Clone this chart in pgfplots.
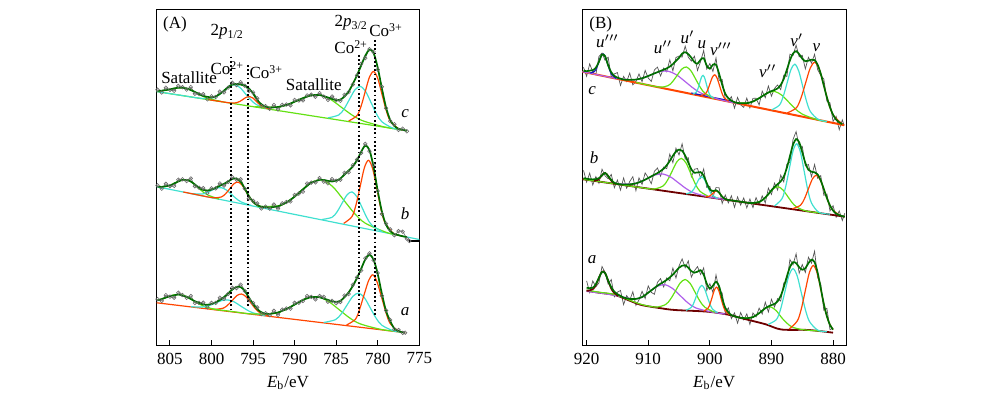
\documentclass[border=0pt]{standalone}
\usepackage{fontspec}
\setmainfont{Liberation Serif}
\usepackage{pgfplots}
\pgfplotsset{compat=1.18}
\definecolor{lgreen}{RGB}{100,225,20}
\definecolor{tq}{RGB}{64,224,208}
\definecolor{ored}{RGB}{255,69,0}
\definecolor{dgreen}{RGB}{0,110,0}
\definecolor{purp}{RGB}{175,95,235}
\definecolor{dblue}{RGB}{20,20,190}
\definecolor{maroon}{RGB}{110,0,0}
\definecolor{rawgray}{RGB}{105,105,105}
\definecolor{rawgrayB}{RGB}{85,85,85}
\pgfplotsset{
  base/.style={scale only axis, height=167.85pt, ymin=0, ymax=335.7, x dir=reverse,
    ytick=\empty, xtick pos=left, tick align=inside, major tick length=3pt,
    axis line style={line width=0.5pt}, every tick/.style={black, line width=0.5pt},
    ticklabel style={font=\fontsize{8.5}{10}\selectfont},
    /pgf/number format/assume math mode=true, /pgf/number format/1000 sep={},
    xlabel={\textit{E}\textsubscript{b}/eV},
    xlabel style={at={(axis description cs:0.5,0)}, anchor=center, yshift=-18.6pt, font=\fontsize{8.5}{10}\selectfont}},
  comp/.style={smooth, line width=0.6pt, no markers},
  env/.style={smooth, line width=0.85pt, dgreen, no markers},
  rawA/.style={smooth, line width=0.3pt, rawgray, mark=o, mark size=0.9pt, mark options={line width=0.3pt}},
  rawB/.style={line width=0.35pt, rawgrayB, no markers},
  dots/.style={black, line width=0.9pt, dash pattern=on 0.9pt off 1.2pt, no markers},
}
\newcommand{\lab}{\fontsize{8.5}{10}\selectfont}
\begin{document}
\begin{tikzpicture}
\path[use as bounding box] (0,0) rectangle (500pt,199.5pt);
% ================= Panel A =================
\begin{axis}[base, at={(78.35pt,26.65pt)}, anchor=south west, width=131.3pt,
  xmin=775, xmax=806.6, xtick={775,780,785,790,795,800,805}]
% ---- c ----
\addplot[rawA] coordinates {(806.5,256.0)(806,253.2)(805.5,258.0)(805,255.7)(804.5,254.9)(804,259.8)(803.5,258.5)(803,256.1)(802.5,258.6)(802,251.9)(801.5,251.6)(801,251.5)(800.5,246.4)(800,249.4)(799.5,248.7)(799,254.1)(798.5,253.3)(798,258.1)(797.5,262.9)(797,260.6)(796.5,263.5)(796,260.0)(795.5,254.8)(795,253.3)(794.5,247.4)(794,239.6)(793.5,239.6)(793,236.9)(792.5,240.7)(792,236.3)(791.5,240.8)(791,241.2)(790.5,240.4)(790,245.8)(789.5,245.2)(789,245.2)(788.5,250.3)(788,251.0)(787.5,248.9)(787,252.5)(786.5,249.0)(786,245.8)(785.5,249.2)(785,245.5)(784.5,244.9)(784,250.9)(783.5,253.6)(783,261.2)(782.5,270.4)(782,281.9)(781.5,287.6)(781,296.5)(780.5,293.8)(780,276.1)(779.5,258.9)(779,237.5)(778.5,224.5)(778,221.5)(777.5,215.7)(777,217.0)(776.5,214.4)};
\addplot[comp, lgreen] coordinates {(806.6,254.1)(776.5,215.0)};
\addplot[comp, tq] coordinates {(806.6,254.1)(803.5,250.1)(801.1,247.2)(799.8,247.9)(799.15,250.6)(798.5,255.1)(797.85,259.6)(797.2,260.9)(796.55,257.9)(795.9,251.7)(795.25,245.6)(794.6,241.1)(793.3,237.0)};
\addplot[comp, lgreen] coordinates {(806.5,254.8)(806.3,254.8)(805.55,255.4)(804.8,256.7)(804.05,257.9)(803.3,257.8)(802.55,256.0)(801.8,252.8)(801.05,249.5)(800.3,247.0)(798.8,244.1)};
\addplot[comp, ored] coordinates {(800.4,246.1)(797.8,242.8)(797.0,243.0)(796.6,244.2)(796.2,246.4)(795.8,248.5)(795.4,249.1)(795.0,247.5)(794.6,244.3)(794.2,241.1)(793.8,238.8)(793.0,236.6)};
\addplot[comp, lgreen] coordinates {(794.8,239.0)(792.2,238.4)(790.9,240.8)(789.6,245.3)(788.3,249.7)(787.0,250.7)(785.7,246.4)(784.4,238.6)(783.1,230.7)(781.8,224.9)(779.2,218.7)(777.5,216.4)};
\addplot[comp, tq] coordinates {(786.0,227.8)(784.7,230.7)(784.05,236.8)(783.4,246.4)(782.75,255.8)(782.1,259.3)(781.45,254.1)(780.8,243.0)(780.15,231.7)(779.5,223.9)(778.2,217.6)(777.0,215.7)};
\addplot[comp, ored] coordinates {(783.5,224.7)(782.5,230.1)(782.0,239.7)(781.5,254.3)(781.0,268.6)(780.5,274.2)(780.0,267.3)(779.5,251.7)(779.0,235.8)(778.5,224.9)(777.5,216.9)(776.8,215.5)};
\addplot[env] coordinates {(806.5,254.8)(806,255.0)(805.5,255.6)(805,256.3)(804.5,257.3)(804,258.0)(803.5,257.9)(803,257.3)(802.5,255.6)(802,253.7)(801.5,251.6)(801,249.7)(800.5,248.8)(800,248.2)(799.5,249.3)(799,251.7)(798.5,255.1)(798,258.7)(797.5,261.1)(797,261.8)(796.5,261.1)(796,260.0)(795.5,257.2)(795,252.1)(794.5,245.6)(794,241.4)(793.5,239.0)(793,238.1)(792.5,238.3)(792,238.7)(791.5,239.6)(791,240.6)(790.5,242.2)(790,244.0)(789.5,245.8)(789,247.6)(788.5,249.1)(788,250.4)(787.5,250.7)(787,250.7)(786.5,249.6)(786,248.2)(785.5,246.8)(785,245.5)(784.5,246.1)(784,249.1)(783.5,254.2)(783,261.8)(782.5,270.4)(782,280.1)(781.5,290.0)(781,295.9)(780.5,292.6)(780,277.9)(779.5,257.1)(779,238.1)(778.5,225.7)(778,219.7)(777.5,216.9)(777,215.8)(776.5,215.0)};
% ---- b ----
\addplot[rawA] coordinates {(806.5,160.3)(806,157.0)(805.5,161.9)(805,159.6)(804.5,159.8)(804,166.0)(803.5,166.4)(803,164.6)(802.5,167.2)(802,159.4)(801.5,157.9)(801,157.5)(800.5,152.8)(800,157.3)(799.5,157.3)(799,162.3)(798.5,160.1)(798,163.7)(797.5,168.5)(797,166.1)(796.5,166.4)(796,157.1)(795.5,147.2)(795,144.9)(794.5,142.3)(794,137.2)(793.5,139.1)(793,137.0)(792.5,141.1)(792,137.0)(791.5,142.4)(791,143.7)(790.5,144.2)(790,150.8)(789.5,152.1)(789,154.0)(788.5,162.2)(788,163.1)(787.5,163.3)(787,167.6)(786.5,164.0)(786,162.4)(785.5,166.6)(785,165.0)(784.5,166.0)(784,172.9)(783.5,173.4)(783,180.4)(782.5,186.0)(782,192.7)(781.5,201.8)(781,194.5)(780.5,180.8)(780,154.7)(779.5,131.7)(779,122.1)(778.5,116.3)(778,110.5)(777.5,114.5)(777,114.0)(776.5,107.0)(776.2,104.7)};
\addplot[black, line width=0.6pt] coordinates {(776.2,104.7)(775.0,104.7)};
\addplot[comp, tq] coordinates {(806.6,159.0)(775.0,106.2)};
\addplot[comp, lgreen] coordinates {(806.5,159.1)(805.6,159.1)(804.95,160.4)(804.3,163.1)(803.65,165.5)(803.0,166.0)(802.35,163.4)(801.7,158.7)(801.05,153.9)(800.4,150.5)(799.1,146.6)};
\addplot[comp, tq] coordinates {(802.4,152.1)(801.2,151.6)(800.6,152.9)(800.0,155.3)(799.4,157.6)(798.8,158.0)(798.2,155.6)(797.6,151.3)(797.0,146.9)(796.4,143.6)(795.2,140.1)};
\addplot[comp, ored] coordinates {(803.4,153.7)(801.0,149.7)(799.8,147.9)(798.8,148.8)(798.3,152.0)(797.8,157.0)(797.3,162.0)(796.8,163.6)(796.3,160.3)(795.8,153.7)(795.3,146.9)(794.8,142.1)(793.8,137.8)};
\addplot[comp, lgreen] coordinates {(794.5,139.2)(791.9,139.9)(790.6,145.3)(789.3,154.4)(788.0,163.2)(786.7,165.8)(785.4,158.9)(784.1,145.7)(782.8,132.3)(781.5,122.5)(778.9,113.1)(777.5,110.4)};
\addplot[comp, tq] coordinates {(786.7,126.2)(785.5,128.4)(784.9,133.8)(784.3,142.4)(783.7,150.8)(783.1,153.8)(782.5,148.8)(781.9,138.4)(781.3,127.8)(780.7,120.4)(779.5,114.1)};
\addplot[comp, ored] coordinates {(784.1,122.3)(783.1,129.1)(782.6,141.4)(782.1,159.9)(781.6,178.2)(781.1,185.4)(780.6,176.5)(780.1,156.6)(779.6,136.3)(779.1,122.4)(778.1,112.2)(777.0,109.6)};
\addplot[env] coordinates {(806.5,159.1)(806,158.8)(805.5,159.5)(805,160.2)(804.5,162.2)(804,164.2)(803.5,165.8)(803,165.8)(802.5,164.2)(802,161.2)(801.5,157.9)(801,155.7)(800.5,155.2)(800,156.1)(799.5,157.9)(799,159.9)(798.5,161.9)(798,164.3)(797.5,166.7)(797,167.3)(796.5,164.0)(796,157.1)(795.5,149.6)(795,143.7)(794.5,140.5)(794,139.0)(793.5,138.5)(793,138.2)(792.5,138.7)(792,139.4)(791.5,141.2)(791,143.1)(790.5,146.0)(790,149.0)(789.5,152.7)(789,156.4)(788.5,159.8)(788,163.1)(787.5,164.5)(787,165.8)(786.5,165.8)(786,164.8)(785.5,164.2)(785,165.0)(784.5,167.2)(784,171.1)(783.5,175.2)(783,179.2)(782.5,185.3)(782,193.9)(781.5,200.0)(781,195.7)(780.5,178.4)(780,154.7)(779.5,134.1)(779,120.9)(778.5,114.5)(778,111.7)(777.5,110.5)(777,109.4)(776.5,108.6)};
% ---- a ----
\addplot[rawA] coordinates {(806.5,46.6)(806,44.8)(805.5,50.5)(805,49.0)(804.5,48.0)(804,53.0)(803.5,50.7)(803,47.8)(802.5,49.7)(802,42.6)(801.5,42.8)(801,43.0)(800.5,38.5)(800,42.8)(799.5,42.8)(799,48.0)(798.5,46.9)(798,51.7)(797.5,57.9)(797,57.6)(796.5,61.0)(796,54.8)(795.5,45.8)(795,42.8)(794.5,38.3)(794,31.6)(793.5,32.5)(793,30.6)(792.5,34.9)(792,30.8)(791.5,36.1)(791,37.2)(790.5,37.0)(790,42.9)(789.5,42.9)(789,44.7)(788.5,49.7)(788,48.8)(787.5,46.3)(787,49.7)(786.5,48.9)(786,44.0)(785.5,44.9)(785,42.6)(784.5,43.7)(784,50.2)(783.5,51.6)(783,60.9)(782.5,68.2)(782,75.2)(781.5,87.4)(781,92.3)(780.5,85.5)(780,72.7)(779.5,50.0)(779,35.2)(778.5,25.7)(778,16.5)(777.5,15.7)(777,12.8)(776.7,13.0)};
\addplot[comp, ored] coordinates {(806.6,42.9)(776.7,13.0)};
\addplot[comp, lgreen] coordinates {(806.5,45.4)(806.2,46.1)(805.4,48.4)(804.6,50.6)(803.8,51.1)(803.0,49.0)(802.2,45.2)(801.4,41.3)(800.6,38.4)(799.0,35.4)};
\addplot[comp, tq] coordinates {(802.5,38.9)(801.0,38.8)(800.25,40.3)(799.5,42.7)(798.75,45.2)(798.0,45.7)(797.25,43.7)(796.5,39.7)(795.75,35.8)(795.0,32.8)(793.5,29.9)};
\addplot[comp, ored] coordinates {(799.7,36.2)(798.6,37.5)(798.05,40.6)(797.5,45.3)(796.95,50.1)(796.4,51.7)(795.85,49.0)(795.3,43.1)(794.75,37.3)(794.2,33.1)(793.1,29.6)};
\addplot[comp, lgreen] coordinates {(800.0,36.8)(797.0,33.6)(795.1,31.7)(792.5,32.2)(791.2,35.7)(789.9,41.6)(788.6,47.3)(787.3,49.0)(786.0,44.7)(784.7,36.4)(783.4,27.9)(782.1,21.8)(779.5,16.1)(777.0,13.6)};
\addplot[comp, tq] coordinates {(786.5,23.2)(785.1,26.0)(784.4,31.7)(783.7,40.6)(783.0,49.3)(782.3,52.6)(781.6,47.9)(780.9,37.8)(780.2,27.5)(779.5,20.4)(778.1,14.8)(777.2,13.6)};
\addplot[comp, ored] coordinates {(783.75,20.7)(782.7,26.3)(782.2,36.0)(781.65,50.8)(781.1,65.1)(780.6,70.9)(780.1,64.1)(779.55,48.7)(779.0,32.8)(778.5,22.1)(777.45,14.4)(776.8,13.2)};
\addplot[env] coordinates {(806.5,45.4)(806,46.6)(805.5,48.1)(805,49.6)(804.5,50.4)(804,51.2)(803.5,50.1)(803,49.0)(802.5,46.7)(802,44.4)(801.5,42.8)(801,41.2)(800.5,40.9)(800,41.6)(799.5,43.4)(799,45.6)(798.5,48.7)(798,52.3)(797.5,56.1)(797,58.8)(796.5,58.6)(796,54.8)(795.5,48.2)(795,41.6)(794.5,36.5)(794,33.4)(793.5,31.9)(793,31.8)(792.5,32.5)(792,33.2)(791.5,34.9)(791,36.6)(790.5,38.8)(790,41.1)(789.5,43.5)(789,45.9)(788.5,47.3)(788,48.8)(787.5,48.7)(787,48.5)(786.5,47.1)(786,45.8)(785.5,44.3)(785,43.8)(784.5,44.9)(784,48.4)(783.5,53.4)(783,59.7)(782.5,67.6)(782,77.0)(781.5,86.2)(781,90.9)(780.5,86.1)(780,71.5)(779.5,51.8)(779,34.6)(778.5,24.5)(778,17.1)(777.5,14.5)(777,13.4)(776.7,13.0)};
% ---- dotted guides ----
\addplot[dots] coordinates {(797.7,289)(797.7,35)};
\addplot[dots] coordinates {(795.6,280.7)(795.6,37.7)};
\addplot[dots] coordinates {(782.3,290.7)(782.3,29.5)};
\addplot[dots] coordinates {(780.3,305.7)(780.3,30.7)};
% ---- labels ----
\node[font=\lab] at (axis cs:804.4,321.7) {(A)};
\node[font=\lab] at (axis cs:798.1,313.7) {2\textit{p}\textsubscript{1/2}};
\node[font=\lab] at (axis cs:798.1,277.7) {Co\textsuperscript{2+}};
\node[font=\lab] at (axis cs:793.4,273.7) {Co\textsuperscript{3+}};
\node[font=\lab] at (axis cs:802.7,267.7) {Satallite};
\node[font=\lab] at (axis cs:787.7,260.7) {Satallite};
\node[font=\lab] at (axis cs:783.2,322.7) {2\textit{p}\textsubscript{3/2}};
\node[font=\lab] at (axis cs:783.2,298.7) {Co\textsuperscript{2+}};
\node[font=\lab] at (axis cs:779.0,315.7) {Co\textsuperscript{3+}};
\node[font=\lab] at (axis cs:776.7,232.4) {\textit{c}};
\node[font=\lab] at (axis cs:776.7,132.4) {\textit{b}};
\node[font=\lab] at (axis cs:776.7,34) {\textit{a}};
\end{axis}
% ================= Panel B =================
\begin{axis}[base, at={(291.15pt,26.65pt)}, anchor=south west, width=131.85pt,
  xmin=877.9, xmax=920.7, xtick={880,890,900,910,920}]
% ---- c ----
\addplot[rawB] coordinates {(920.5,278.4)(920,269.4)(919.5,281.8)(919,273.8)(918.5,271.2)(918,289.2)(917.5,292.6)(917,285.3)(916.5,288.4)(916,268.4)(915.5,271.8)(915,273.1)(914.5,260.2)(914,269.3)(913.5,264.2)(913,272.6)(912.5,260.8)(912,264.2)(911.5,271.8)(911,264.0)(910.5,275.3)(910,267.7)(909.5,264.2)(909,275.7)(908.5,278.6)(908,269.7)(907.5,277.6)(907,273.9)(906.5,285.9)(906,274.8)(905.5,288.2)(905,289.6)(904.5,288.6)(904,299.5)(903.5,288.5)(903,284.6)(902.5,289.5)(902,275.2)(901.5,284.3)(901,295.2)(900.5,276.6)(900,282.1)(899.5,274.2)(899,287.8)(898.5,265.2)(898,266.1)(897.5,246.9)(897,244.9)(896.5,249)(896,237.5)(895.5,248.3)(895,240.9)(894.5,238.3)(894,247.6)(893.5,237.8)(893,247.3)(892.5,247.5)(892,240.7)(891.5,254.6)(891,248.0)(890.5,259.7)(890,249.5)(889.5,257.4)(889,260.7)(888.5,256.1)(888,270.5)(887.5,269.3)(887,291.5)(886.5,290.2)(886,300.5)(885.5,288.9)(885,290.4)(884.5,276.8)(884,288.4)(883.5,282.6)(883,291.4)(882.5,276.0)(882,270.3)(881.5,266.7)(881,244.4)(880.5,242.8)(880,224.3)(879.5,229.3)(879,216.0)(878.5,225.8)(878.2,220)};
\addplot[comp, ored, line width=1pt] coordinates {(920.7,274.0)(878.2,220.5)};
\addplot[comp, dblue] coordinates {(903,252.7)(900,248.9)(898,246.4)(896.5,244.5)};
\addplot[comp, purp] coordinates {(920.7,274.0)(918.0,270.6)(915.15,267.2)(912.35,265.9)(910.95,267.5)(909.55,270.8)(908.15,274.1)(906.75,274.4)(905.35,270.6)(903.95,263.8)(902.55,256.9)(901.15,251.8)(898.35,246.0)(895.0,241.6)};
\addplot[comp, dblue] coordinates {(919.4,272.6)(918.7,274.5)(918.35,278.1)(918.0,283.9)(917.65,289.6)(917.3,291.7)(916.95,288.7)(916.6,282.1)(916.25,275.5)(915.9,270.9)(915.2,267.3)};
\addplot[comp, lgreen] coordinates {(912.0,263.3)(908.3,258.7)(906.8,260.0)(906.05,264.0)(905.3,270.4)(904.55,276.6)(903.8,278.7)(903.05,274.7)(902.3,266.6)(901.55,258.3)(900.8,252.4)(899.3,247.3)};
\addplot[comp, tq] coordinates {(902.75,251.6)(902.2,253.5)(901.925,257.1)(901.65,262.7)(901.375,268.2)(901.1,270.3)(900.825,267.5)(900.55,261.3)(900.275,255.1)(900.0,250.7)(899.45,247.4)};
\addplot[comp, ored] coordinates {(901.45,250.1)(900.7,252.0)(900.325,256.1)(899.95,262.5)(899.575,268.6)(899.2,270.9)(898.825,267.6)(898.45,260.6)(898.075,253.3)(897.7,248.2)(896.95,244.4)};
\addplot[comp, lgreen] coordinates {(896.0,243.1)(893.8,242.7)(892.7,245.0)(891.6,249.1)(890.5,253.1)(889.4,254.1)(888.3,250.4)(887.2,243.6)(886.1,236.7)(885.0,231.6)(882.8,226.4)(881.0,224.0)};
\addplot[comp, tq] coordinates {(889.95,235.9)(888.7,240.6)(888.075,249.5)(887.45,263.0)(886.825,276.3)(886.2,281.5)(885.575,274.7)(884.95,259.9)(884.325,244.8)(883.7,234.3)(882.45,226.4)(881.0,224.2)};
\addplot[comp, ored] coordinates {(887.45,232.7)(885.95,237.9)(885.2,247.8)(884.45,262.9)(883.7,277.7)(882.95,283.4)(882.2,275.8)(881.45,259.1)(880.7,242.1)(879.95,230.4)(878.45,221.4)};
\addplot[env] coordinates {(920.5,275.0)(920,274.5)(919.5,275.0)(919,275.5)(918.5,278.0)(918,283.9)(917.5,291.1)(917,289.4)(916.5,280.2)(916,273.5)(915.5,269.8)(915,268.0)(914.5,267.0)(914,266.1)(913.5,265.9)(913,265.8)(912.5,265.9)(912,266.1)(911.5,266.7)(911,267.4)(910.5,268.5)(910,269.7)(909.5,271.0)(909,272.3)(908.5,273.5)(908,274.8)(907.5,275.9)(907,277.3)(906.5,279.1)(906,281.6)(905.5,284.8)(905,287.9)(904.5,292)(904,293.5)(903.5,291.5)(903,288)(902.5,283.5)(902,282)(901.5,286)(901,287.5)(900.5,280)(900,277)(899.5,281)(899,281)(898.5,272)(898,261)(897.5,252)(897,247.5)(896.5,245)(896,243.5)(895.5,242.7)(895,242.4)(894.5,242.4)(894,242.5)(893.5,243.2)(893,244.2)(892.5,245.8)(892,247.5)(891.5,249.5)(891,251.4)(890.5,253.2)(890,254.6)(889.5,255.7)(889,257.3)(888.5,260.7)(888,266.9)(887.5,275.9)(887,285.4)(886.5,292.1)(886,294.5)(885.5,291.5)(885,287)(884.5,284.5)(884,285)(883.5,286)(883,285.6)(882.5,280.9)(882,272.0)(881.5,260.1)(881,248.3)(880.5,238.4)(880,230.9)(879.5,226.1)(879,223.3)(878.5,221.5)};
% ---- b ----
\addplot[rawB] coordinates {(920.5,175.2)(920,163.6)(919.5,172.5)(919,160.7)(918.5,169.1)(918,162.4)(917.5,176.5)(917,169.8)(916.5,166.9)(916,171.3)(915.5,158.0)(915,165.6)(914.5,155.6)(914,167.7)(913.5,157.5)(913,164.2)(912.5,169.0)(912,155.0)(911.5,167.9)(911,161.2)(910.5,172.8)(910,168.2)(909.5,162.0)(909,174.4)(908.5,177.7)(908,169.5)(907.5,178.7)(907,177.0)(906.5,191.6)(906,183.1)(905.5,197.5)(905,190.8)(904.5,201.9)(904,186.5)(903.5,188.0)(903,168.9)(902.5,176.5)(902,177.1)(901.5,167.5)(901,176.8)(900.5,158.2)(900,159.4)(899.5,148.5)(899,158.1)(898.5,158.0)(898,142.2)(897.5,150.7)(897,142.8)(896.5,149.9)(896,138.3)(895.5,148.8)(895,140.6)(894.5,147.8)(894,137.8)(893.5,146.7)(893,138.1)(892.5,148.1)(892,140.8)(891.5,149.8)(891,142.8)(890.5,157.5)(890,151.3)(889.5,162.6)(889,155.6)(888.5,170.6)(888,163.8)(887.5,181.5)(887,183.5)(886.5,206.2)(886,214.1)(885.5,199.3)(885,199.5)(884.5,179.8)(884,181.2)(883.5,169.0)(883,181.2)(882.5,167.4)(882,170.0)(881.5,150.4)(881,151.7)(880.5,134.8)(880,140.0)(879.5,128.5)(879,134.8)(878.5,125.2)(878.1,132.4)};
\addplot[comp, maroon, line width=0.9pt] coordinates {(920.7,166.5)(878.1,129.0)};
\addplot[comp, lgreen] coordinates {(920.5,166.3)(915.0,161.5)(911.1,158.0)(909.1,156.7)(907.6,159.7)(906.85,165.7)(906.1,174.8)(905.35,183.9)(904.6,187.3)(903.85,182.6)(903.1,172.2)(902.35,161.7)(901.6,154.4)(900.1,148.8)};
\addplot[comp, purp] coordinates {(915.1,161.8)(912.6,161.7)(911.35,163.7)(910.1,167.3)(908.85,170.8)(907.6,171.7)(906.35,168.6)(905.1,162.9)(903.85,157.1)(902.6,152.9)(900.1,148.6)(897.5,146.2)};
\addplot[comp, maroon, line width=0.8pt] coordinates {(918.8,164.9)(918.2,165.6)(917.6,169.6)(917.3,171.9)(917.0,172.7)(916.7,171.4)(916.4,168.5)(915.8,163.5)(915.2,161.7)};
\addplot[comp, tq] coordinates {(903.85,151.9)(903.0,153.5)(902.575,156.8)(902.15,162.0)(901.725,167.0)(901.3,168.9)(900.875,166.2)(900.45,160.5)(900.025,154.6)(899.6,150.5)(898.75,147.4)};
\addplot[comp, ored] coordinates {(900.7,149.0)(900.1,149.4)(899.5,152.4)(899.2,154.3)(898.9,154.9)(898.6,153.7)(898.3,151.4)(897.7,147.2)(897.1,145.8)};
\addplot[comp, lgreen] coordinates {(893.4,142.7)(891.9,143.9)(891.15,147.1)(890.4,152.2)(889.65,157.2)(888.9,158.9)(888.15,155.8)(887.4,149.6)(886.65,143.1)(885.9,138.7)(884.4,134.7)(882.0,132.6)};
\addplot[comp, tq] coordinates {(889.5,139.7)(888.3,146.9)(887.7,158.8)(887.1,176.9)(886.5,194.7)(885.9,201.9)(885.3,193.5)(884.7,174.8)(884.1,155.7)(883.5,142.7)(882.3,133.4)(880.5,131.5)};
\addplot[comp, ored] coordinates {(886.6,136.9)(885.3,140.4)(884.65,146.9)(884.0,156.9)(883.35,166.7)(882.7,170.5)(882.05,165.6)(881.4,154.6)(880.75,143.5)(880.1,135.9)(878.8,130.0)};
\addplot[env] coordinates {(920.5,167.5)(920,167)(919.5,166.5)(919,166.3)(918.5,166.5)(918,167.5)(917.5,170.4)(917,172.7)(916.5,169.5)(916,165.7)(915.5,162.8)(915,161.7)(914.5,161.4)(914,161.2)(913.5,161.2)(913,161.3)(912.5,161.7)(912,162.3)(911.5,163.3)(911,164.6)(910.5,166.0)(910,167.7)(909.5,169.3)(909,171.0)(908.5,172.6)(908,174.6)(907.5,177.0)(907,180.4)(906.5,184.8)(906,189.9)(905.5,194.1)(905,196.1)(904.5,194.9)(904,190.1)(903.5,183.2)(903,176.4)(902.5,172.9)(902,173.2)(901.5,173.6)(901,170.0)(900.5,162.5)(900,156.0)(899.5,154.6)(899,155.4)(898.5,153.1)(898,149.0)(897.5,146.6)(897,145.7)(896.5,145.3)(896,144.9)(895.5,144.4)(895,144.0)(894.5,143.5)(894,143.1)(893.5,142.6)(893,142.7)(892.5,143.0)(892,143.7)(891.5,145.5)(891,148.2)(890.5,151.5)(890,155.4)(889.5,158.7)(889,161.4)(888.5,164.3)(888,169.1)(887.5,177.8)(887,189.5)(886.5,200.9)(886,206.6)(885.5,203.4)(885,193.5)(884.5,182.7)(884,175.9)(883.5,173.9)(883,173.4)(882.5,171.3)(882,165.2)(881.5,156.7)(881,147.6)(880.5,140.2)(880,135.1)(879.5,132.1)(879,130.5)(878.5,129.6)(878.1,129.0)};
% ---- a ----
\addplot[rawB] coordinates {(920,64.8)(919.5,53.2)(919,64.8)(918.5,58.9)(918,62.9)(917.5,79.2)(917,73.3)(916.5,61.6)(916,66.2)(915.5,48.9)(915,53.5)(914.5,55.2)(914,41.1)(913.5,50.1)(913,45.4)(912.5,54.0)(912,40.3)(911.5,45.8)(911,54.4)(910.5,47.2)(910,59.8)(909.5,53.3)(909,51.4)(908.5,63.4)(908,67.1)(907.5,58.7)(907,67.8)(906.5,64.9)(906,77.7)(905.5,67.7)(905,79.7)(904.5,86.8)(904,77.9)(903.5,84.8)(903,68.5)(902.5,75)(902,79.1)(901.5,71.2)(901,77.8)(900.5,55.2)(900,62.1)(899.5,53.2)(899,70.8)(898.5,56.1)(898,52.6)(897.5,32.9)(897,37.8)(896.5,27.1)(896,32.8)(895.5,22.5)(895,33.2)(894.5,25.9)(894,31.8)(893.5,21.3)(893,32.7)(892.5,28.7)(892,37.6)(891.5,31.6)(891,43.5)(890.5,33.7)(890,46.4)(889.5,38.7)(889,47.1)(888.5,44.6)(888,62.8)(887.5,63.8)(887,86.2)(886.5,80.9)(886,91.9)(885.5,72.5)(885,81.1)(884.5,73.2)(884,88.5)(883.5,82.6)(883,94.5)(882.5,67.9)(882,61.8)(881.5,35.5)(881,37.3)(880.5,16.0)(880,17.6)};
\addplot[comp, maroon, line width=0.9pt] coordinates {(920,55)(918,53)(915.4,50.7)(913,45)(911.1,40.7)(908,37.5)(905.7,35.7)(900.3,34)(897,31)(894.8,27.4)(891,21.5)(888.4,16.2)(884,15.7)(880,13)};
\addplot[comp, purp] coordinates {(920,54.3)(917.5,52.4)(914.8,49.6)(912.3,46.6)(911.05,48.4)(909.8,54.0)(908.55,59.3)(907.3,61.0)(906.05,57.2)(904.8,50.0)(903.55,42.8)(902.3,37.8)(899.8,33.8)(897.5,31.6)};
\addplot[comp, lgreen] coordinates {(920,55.6)(918,53.5)(915.4,51.2)(913,45.5)(911.1,41.2)(908.8,38.6)(907.2,41.1)(906.4,46.4)(905.6,54.5)(904.8,62.8)(904.0,66.2)(903.2,62.3)(902.4,53.5)(901.6,44.5)(900.8,38.4)(899.2,33.3)};
\addplot[comp, maroon, line width=0.8pt] coordinates {(920,55.0)(919.7,54.9)(918.9,56.9)(918.5,60.6)(918.1,66.4)(917.7,72.1)(917.3,74.4)(916.9,71.4)(916.5,65.0)(916.1,58.4)(915.7,54.0)(914.9,49.7)};
\addplot[comp, tq] coordinates {(903.85,35.4)(903.0,38.4)(902.575,43.1)(902.15,50.4)(901.725,57.3)(901.3,60.3)(900.875,57.1)(900.45,49.8)(900.025,42.2)(899.6,36.9)(898.75,32.9)};
\addplot[comp, ored] coordinates {(901.0,34.5)(900.3,37.5)(899.95,42.1)(899.6,49.0)(899.25,55.8)(898.9,58.5)(898.55,55.2)(898.2,47.7)(897.85,40.2)(897.5,35.0)(896.8,31.0)};
\addplot[comp, lgreen] coordinates {(895.1,28.1)(893.4,27.8)(892.55,30.1)(891.7,34.1)(890.85,38.0)(890.0,38.5)(889.15,34.5)(888.3,27.7)(887.45,22.3)(886.6,18.6)(884.9,16.0)(882,14.6)};
\addplot[comp, tq] coordinates {(890.55,21.3)(889.2,26.1)(888.525,36.3)(887.85,53.1)(887.175,69.9)(886.5,77.0)(885.825,69.8)(885.15,52.8)(884.475,35.6)(883.8,23.9)(882.45,15.4)(881,14.0)};
\addplot[comp, ored] coordinates {(887.1,16.8)(885.8,24.8)(885.15,36.9)(884.5,55.2)(883.85,73.0)(883.2,80.2)(882.55,72.1)(881.9,53.7)(881.25,34.9)(880.6,22.2)(880.0,16.1)};
\addplot[env] coordinates {(920,58)(919.5,57.5)(919,58)(918.5,61.5)(918,68.0)(917.5,73.8)(917,72.6)(916.5,65.0)(916,58.5)(915.5,54)(915,51.5)(914.5,49.8)(914,48.1)(913.5,47.4)(913,46.8)(912.5,46.7)(912,46.8)(911.5,47.5)(911,48.6)(910.5,50.6)(910,53.0)(909.5,55.3)(909,57.7)(908.5,60.0)(908,62.0)(907.5,63.8)(907,65.8)(906.5,68.3)(906,71.1)(905.5,74.5)(905,78)(904.5,80)(904,80.5)(903.5,78)(903,74.5)(902.5,73)(902,74)(901.5,75.5)(901,71)(900.5,62)(900,57)(899.5,60)(899,64)(898.5,59.5)(898,47.5)(897.5,38)(897,33.5)(896.5,30.5)(896,29.4)(895.5,28.5)(895,27.9)(894.5,27.6)(894,27.4)(893.5,27.9)(893,28.6)(892.5,30.4)(892,32.5)(891.5,35.0)(891,37.5)(890.5,39.3)(890,40.6)(889.5,41.8)(889,44.4)(888.5,49.7)(888,58.5)(887.5,69.2)(887,78.5)(886.5,83.5)(886,82.5)(885.5,78.5)(885,76)(884.5,77.5)(884,82.5)(883.5,86)(883,83.5)(882.5,73)(882,57.5)(881.5,41.6)(881,29.3)(880.5,20.8)(880,16.1)};
% ---- labels ----
\node[font=\lab] at (axis cs:917.7,321.7) {(B)};
\node[font=\lab] at (axis cs:916.6,304.7) {\textit{u}$'''$};
\node[font=\lab] at (axis cs:907.6,298.2) {\textit{u}$''$};
\node[font=\lab] at (axis cs:903.6,308.2) {\textit{u}$'$};
\node[font=\lab] at (axis cs:901.3,300.7) {\textit{u}};
\node[font=\lab] at (axis cs:898.2,296.7) {\textit{v}$'''$};
\node[font=\lab] at (axis cs:890.6,274.7) {\textit{v}$''$};
\node[font=\lab] at (axis cs:885.9,305.7) {\textit{v}$'$};
\node[font=\lab] at (axis cs:882.7,298.2) {\textit{v}};
\node[font=\lab] at (axis cs:919.1,254.7) {\textit{c}};
\node[font=\lab] at (axis cs:918.8,187.7) {\textit{b}};
\node[font=\lab] at (axis cs:919.1,85.7) {\textit{a}};
\end{axis}
\end{tikzpicture}
\end{document}
